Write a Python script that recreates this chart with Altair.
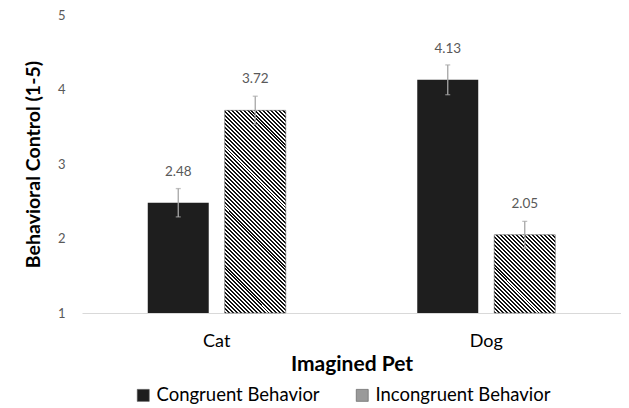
import math
import altair as alt
import pandas as pd

pets = ["Cat", "Cat", "Dog", "Dog"]
behaviors = ["Congruent Behavior", "Incongruent Behavior", "Congruent Behavior", "Incongruent Behavior"]
means = [2.48, 3.72, 4.13, 2.05]
errors = [0.19, 0.19, 0.20, 0.18]
labels = ["2.48", "3.72", "4.13", "2.05"]
behavior_order = ["Congruent Behavior", "Incongruent Behavior"]
pet_order = ["Cat", "Dog"]
y_ticks = [1, 2, 3, 4, 5]

df = pd.DataFrame({
    "Pet": pets,
    "Behavior": behaviors,
    "Mean": means,
    "Err": errors,
    "Label": labels,
})
df["Lo"] = df["Mean"] - df["Err"]
df["Hi"] = df["Mean"] + df["Err"]

W, H = 539, 298
YMIN, YMAX = 1, 5
BAR_W = 61
PX_PER_UNIT = H / (YMAX - YMIN)
PERIOD = 2.8  # stripe period (px), styling only


def stripe_fill(bar_h, bar_w=BAR_W, period=PERIOD):
    # linear gradient emulating "\\\\" hatching at 45 degrees
    s = (bar_w + bar_h) / (bar_w ** 2 + bar_h ** 2)
    length = (bar_w + bar_h) / math.sqrt(2)
    n = max(1, int(round(length / period)))
    stops = []
    for k in range(n):
        a = k / n
        b = (k + 0.5) / n
        c = (k + 1) / n
        stops += [
            {"offset": a, "color": "#111111"},
            {"offset": b, "color": "#111111"},
            {"offset": b, "color": "#ffffff"},
            {"offset": c, "color": "#ffffff"},
        ]
    return {"gradient": "linear", "x1": 0, "y1": 1, "x2": s * bar_w, "y2": 1 - s * bar_h, "stops": stops}


conditions = []
for p, b, m in zip(pets, behaviors, means):
    if b == "Incongruent Behavior":
        conditions.append({
            "test": f"datum.Pet == '{p}' && datum.Behavior == '{b}'",
            "value": stripe_fill((m - YMIN) * PX_PER_UNIT),
        })

x_enc = alt.X("Pet:N", sort=pet_order,
              scale=alt.Scale(paddingInner=0, paddingOuter=0),
              axis=alt.Axis(title="Imagined Pet", labelAngle=0, labelFontSize=18,
                            labelColor="#000000", labelPadding=19, ticks=False,
                            domainColor="#d9d9d9", domainWidth=1,
                            titleFontSize=21, titleFontWeight="bold", titleColor="#000000",
                            titlePadding=3))
xoff = alt.XOffset("Behavior:N", sort=behavior_order,
                   scale=alt.Scale(paddingInner=0.208, paddingOuter=0.854))
y_scale = alt.Scale(domain=[YMIN, YMAX], nice=False, zero=False)

base = alt.Chart(df)

bars = base.mark_bar(stroke="#595959", strokeWidth=0.6).encode(
    x=x_enc,
    xOffset=xoff,
    y=alt.Y("Mean:Q", scale=y_scale,
            axis=alt.Axis(title="Behavioral Control (1-5)", values=y_ticks, format="d", grid=False,
                          domain=False, ticks=False, labelFontSize=13, labelColor="#595959",
                          labelPadding=17, titleFontSize=19.5, titleFontWeight="bold",
                          titleColor="#000000", titlePadding=14)),
    y2=alt.datum(YMIN),
    strokeOpacity=alt.condition("datum.Behavior == 'Incongruent Behavior'", alt.value(1), alt.value(0)),
    fill=alt.Fill("Behavior:N", sort=behavior_order,
                  scale=alt.Scale(domain=behavior_order, range=["#1e1e1e", "#9a9a9a"]),
                  legend=alt.Legend(title=None, orient="none", legendX=52, legendY=371,
                                    direction="horizontal", labelFontSize=18.5, labelColor="#000000",
                                    labelLimit=0,
                                    symbolType="square", symbolSize=144, labelOffset=4,
                                    columnPadding=33, symbolStrokeColor="#595959",
                                    symbolStrokeWidth=0.6),
                  condition=conditions),
)

err = base.mark_rule(color="#a6a6a6", strokeWidth=1.3).encode(
    x=alt.X("Pet:N", sort=pet_order),
    xOffset=xoff,
    y=alt.Y("Lo:Q", scale=y_scale),
    y2="Hi:Q",
)
cap_hi = base.mark_tick(color="#a6a6a6", thickness=1.3, size=5, orient="horizontal").encode(
    x=alt.X("Pet:N", sort=pet_order),
    xOffset=xoff,
    y=alt.Y("Hi:Q", scale=y_scale),
)
cap_lo = base.mark_tick(color="#a6a6a6", thickness=1.3, size=5, orient="horizontal").encode(
    x=alt.X("Pet:N", sort=pet_order),
    xOffset=xoff,
    y=alt.Y("Lo:Q", scale=y_scale),
)
text = base.mark_text(fontSize=13.5, color="#595959", baseline="middle", dy=-31).encode(
    x=alt.X("Pet:N", sort=pet_order),
    xOffset=xoff,
    y=alt.Y("Mean:Q", scale=y_scale),
    text="Label:N",
)

chart = alt.layer(bars, err, cap_hi, cap_lo, text).properties(
    width=W, height=H,
    padding={"left": 74, "top": 7, "right": 0, "bottom": 94},
    autosize=alt.AutoSizeParams(type="none"),
).configure(font="Lato").configure_view(stroke=None)

chart.save("out.html", embed_options={"renderer": "svg", "actions": False})
